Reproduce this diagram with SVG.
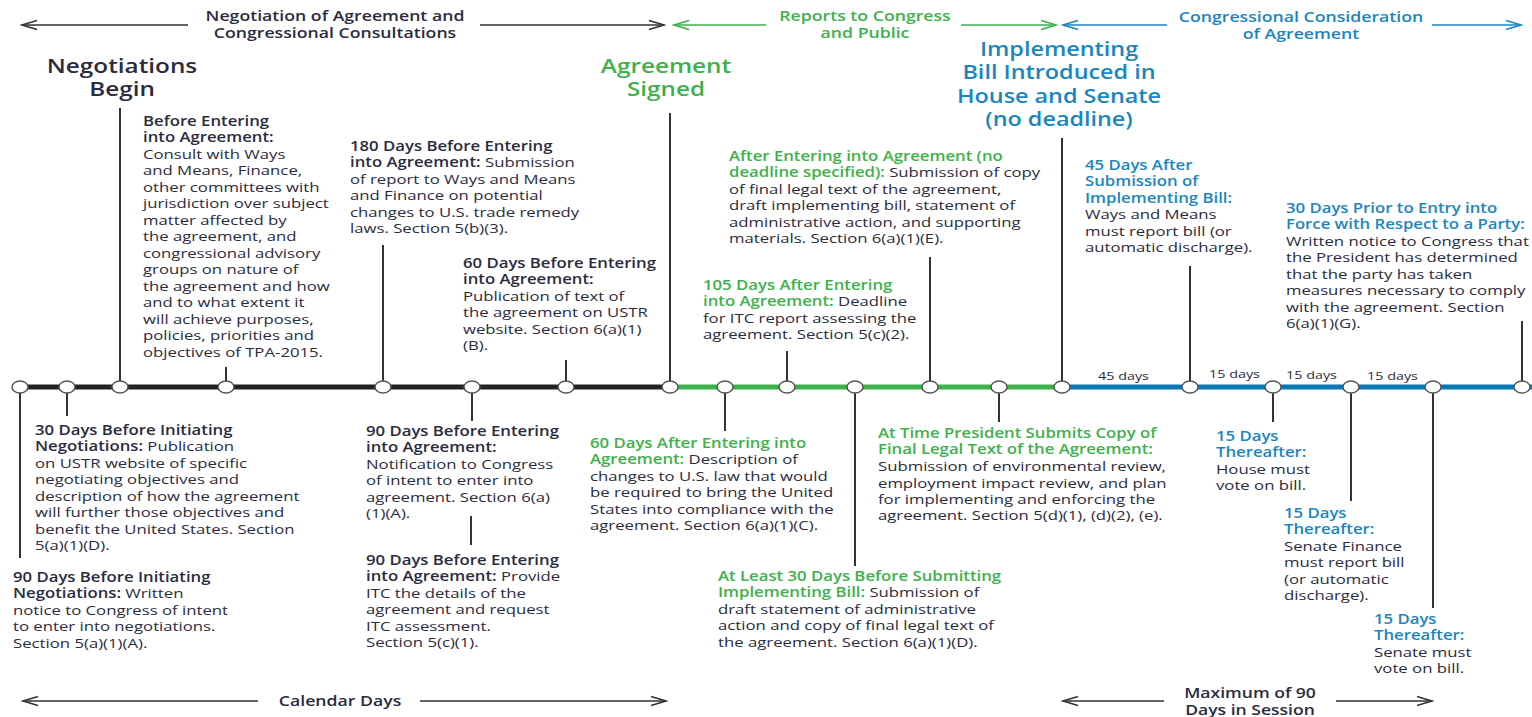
<svg xmlns="http://www.w3.org/2000/svg" width="1532" height="717" viewBox="0 0 1532 717">
<style>
text{font-family:"Open Sans","Noto Sans","Liberation Sans",sans-serif;}
.b{font-size:13.5px;fill:#2b2b40;}
.h{font-weight:600;}
.g{fill:#3db14a;}
.bl{fill:#1a86c0;}
.dk{fill:#2b2b40;}
.big{font-size:19.5px;font-weight:600;text-anchor:middle;}
.big2{font-size:19px;font-weight:600;text-anchor:middle;}
.top{font-size:14.5px;font-weight:600;text-anchor:middle;}
.top2{font-size:13.5px;font-weight:600;text-anchor:middle;}
.sm{font-size:11.5px;fill:#2b2b40;}
.tick{stroke:#333;stroke-width:2;}
.dot{fill:#fff;stroke:#555;stroke-width:1.5;}
.ak{fill:none;stroke:#333;stroke-width:1.4;}
.ag{fill:none;stroke:#3db14a;stroke-width:1.4;}
.ab{fill:none;stroke:#1a86c0;stroke-width:1.4;}
</style>
<defs>
<marker id="mk" markerUnits="userSpaceOnUse" markerWidth="18" markerHeight="12" refX="16" refY="6" orient="auto"><path d="M1,1.5 L16,6 L1,10.5" fill="none" stroke="#333" stroke-width="1.4"/></marker>
<marker id="mg" markerUnits="userSpaceOnUse" markerWidth="18" markerHeight="12" refX="16" refY="6" orient="auto"><path d="M1,1.5 L16,6 L1,10.5" fill="none" stroke="#3db14a" stroke-width="1.4"/></marker>
<marker id="mb" markerUnits="userSpaceOnUse" markerWidth="18" markerHeight="12" refX="16" refY="6" orient="auto"><path d="M1,1.5 L16,6 L1,10.5" fill="none" stroke="#1a86c0" stroke-width="1.4"/></marker>
</defs>
<rect width="1532" height="717" fill="#fff"/>

<g id="connectors">
  <line x1="188" y1="25" x2="22" y2="25" class="ak" marker-end="url(#mk)"/>
  <line x1="480" y1="25" x2="664" y2="25" class="ak" marker-end="url(#mk)"/>
  <line x1="766" y1="25" x2="674" y2="25" class="ag" marker-end="url(#mg)"/>
  <line x1="961" y1="25" x2="1056" y2="25" class="ag" marker-end="url(#mg)"/>
  <line x1="1167" y1="25" x2="1063" y2="25" class="ab" marker-end="url(#mb)"/>
  <line x1="1432" y1="25" x2="1521" y2="25" class="ab" marker-end="url(#mb)"/>
  <line x1="258" y1="701" x2="23" y2="701" class="ak" marker-end="url(#mk)"/>
  <line x1="420" y1="701" x2="666" y2="701" class="ak" marker-end="url(#mk)"/>
  <line x1="1164" y1="701" x2="1063" y2="701" class="ak" marker-end="url(#mk)"/>
  <line x1="1336" y1="701" x2="1432" y2="701" class="ak" marker-end="url(#mk)"/>
  <line x1="20" y1="387" x2="670" y2="387" stroke="#222" stroke-width="5"/>
  <line x1="670" y1="387" x2="1062" y2="387" stroke="#3db14a" stroke-width="5"/>
  <line x1="1062" y1="387" x2="1532" y2="387" stroke="#0b77b4" stroke-width="5"/>
</g>

<g id="phase-labels">
  <text class="top dk" transform="translate(335,0) scale(1.22,1)" x="0" y="21">Negotiation of Agreement and<tspan x="0" dy="17.5">Congressional Consultations</tspan></text>
  <text class="top g" transform="translate(865,0) scale(1.22,1)" x="0" y="21">Reports to Congress<tspan x="0" dy="17.5">and Public</tspan></text>
  <text class="top bl" transform="translate(1301,0) scale(1.22,1)" x="0" y="22">Congressional Consideration<tspan x="0" dy="17.5">of Agreement</tspan></text>
  <text class="big2 dk" transform="translate(122,0) scale(1.28,1)" x="0" y="73">Negotiations<tspan x="0" dy="23">Begin</tspan></text>
  <text class="big2 g" transform="translate(666,0) scale(1.28,1)" x="0" y="73">Agreement<tspan x="0" dy="23">Signed</tspan></text>
  <text class="big bl" transform="translate(1059,0) scale(1.2,1)" x="0" y="56">Implementing<tspan x="0" dy="23.5">Bill Introduced in</tspan><tspan x="0" dy="23.5">House and Senate</tspan><tspan x="0" dy="23.5">(no deadline)</tspan></text>
  <text class="top dk" transform="translate(340,0) scale(1.22,1)" x="0" y="706">Calendar Days</text>
  <text class="top2 dk" transform="translate(1250,0) scale(1.3,1)" x="0" y="698.5">Maximum of 90<tspan x="0" dy="16.5">Days in Session</tspan></text>
  <text class="sm" transform="translate(1098,0) scale(1.25,1)" x="0" y="380">45 days</text>
  <text class="sm" transform="translate(1209,0) scale(1.25,1)" x="0" y="378">15 days</text>
  <text class="sm" transform="translate(1286,0) scale(1.25,1)" x="0" y="379">15 days</text>
  <text class="sm" transform="translate(1367,0) scale(1.25,1)" x="0" y="380">15 days</text>
</g>

<g id="e90-before-initiating">
  <line class="tick" x1="20" y1="387" x2="20" y2="558"/>
  <ellipse class="dot" cx="20" cy="387" rx="8" ry="6"/>
  <text class="b" transform="translate(13,0) scale(1.24,1)" x="0" y="582"><tspan class="h">90 Days Before Initiating</tspan><tspan x="0" dy="16.5" class="h">Negotiations:</tspan> Written<tspan x="0" dy="16.5">notice to Congress of intent</tspan><tspan x="0" dy="16.5">to enter into negotiations.</tspan><tspan x="0" dy="16.5">Section 5(a)(1)(A).</tspan></text>
</g>

<g id="e30-before-initiating">
  <line class="tick" x1="67" y1="387" x2="67" y2="416"/>
  <ellipse class="dot" cx="67" cy="387" rx="8" ry="6"/>
  <text class="b" transform="translate(35,0) scale(1.24,1)" x="0" y="435"><tspan class="h">30 Days Before Initiating</tspan><tspan x="0" dy="16.5" class="h">Negotiations:</tspan> Publication<tspan x="0" dy="16.5">on USTR website of specific</tspan><tspan x="0" dy="16.5">negotiating objectives and</tspan><tspan x="0" dy="16.5">description of how the agreement</tspan><tspan x="0" dy="16.5">will further those objectives and</tspan><tspan x="0" dy="16.5">benefit the United States. Section</tspan><tspan x="0" dy="16.5">5(a)(1)(D).</tspan></text>
</g>

<g id="e-negotiations-begin">
  <line class="tick" x1="120" y1="387" x2="120" y2="108"/>
  <ellipse class="dot" cx="120" cy="387" rx="8" ry="6"/>
</g>

<g id="e-before-entering">
  <line class="tick" x1="226" y1="387" x2="226" y2="367"/>
  <ellipse class="dot" cx="226" cy="387" rx="8" ry="6"/>
  <text class="b" transform="translate(143,0) scale(1.24,1)" x="0" y="126"><tspan class="h">Before Entering</tspan><tspan x="0" dy="16.5" class="h">into Agreement:</tspan><tspan x="0" dy="16.5">Consult with Ways</tspan><tspan x="0" dy="16.5">and Means, Finance,</tspan><tspan x="0" dy="16.5">other committees with</tspan><tspan x="0" dy="16.5">jurisdiction over subject</tspan><tspan x="0" dy="16.5">matter affected by</tspan><tspan x="0" dy="16.5">the agreement, and</tspan><tspan x="0" dy="16.5">congressional advisory</tspan><tspan x="0" dy="16.5">groups on nature of</tspan><tspan x="0" dy="16.5">the agreement and how</tspan><tspan x="0" dy="16.5">and to what extent it</tspan><tspan x="0" dy="16.5">will achieve purposes,</tspan><tspan x="0" dy="16.5">policies, priorities and</tspan><tspan x="0" dy="16.5">objectives of TPA-2015.</tspan></text>
</g>

<g id="e180-before-entering">
  <line class="tick" x1="383" y1="387" x2="383" y2="245"/>
  <ellipse class="dot" cx="383" cy="387" rx="8" ry="6"/>
  <text class="b" transform="translate(350,0) scale(1.24,1)" x="0" y="151"><tspan class="h">180 Days Before Entering</tspan><tspan x="0" dy="16.5" class="h">into Agreement:</tspan> Submission<tspan x="0" dy="16.5">of report to Ways and Means</tspan><tspan x="0" dy="16.5">and Finance on potential</tspan><tspan x="0" dy="16.5">changes to U.S. trade remedy</tspan><tspan x="0" dy="16.5">laws. Section 5(b)(3).</tspan></text>
</g>

<g id="e90-before-entering">
  <line class="tick" x1="472" y1="387" x2="472" y2="421"/>
  <ellipse class="dot" cx="472" cy="387" rx="8" ry="6"/>
  <text class="b" transform="translate(366,0) scale(1.24,1)" x="0" y="436"><tspan class="h">90 Days Before Entering</tspan><tspan x="0" dy="16.5" class="h">into Agreement:</tspan><tspan x="0" dy="16.5">Notification to Congress</tspan><tspan x="0" dy="16.5">of intent to enter into</tspan><tspan x="0" dy="16.5">agreement. Section 6(a)</tspan><tspan x="0" dy="16.5">(1)(A).</tspan></text>
  <line class="tick" x1="471" y1="516" x2="471" y2="545"/>
  <text class="b" transform="translate(366,0) scale(1.24,1)" x="0" y="565"><tspan class="h">90 Days Before Entering</tspan><tspan x="0" dy="16.5" class="h">into Agreement:</tspan> Provide<tspan x="0" dy="16.5">ITC the details of the</tspan><tspan x="0" dy="16.5">agreement and request</tspan><tspan x="0" dy="16.5">ITC assessment.</tspan><tspan x="0" dy="16.5">Section 5(c)(1).</tspan></text>
</g>

<g id="e60-before-entering">
  <line class="tick" x1="566" y1="387" x2="566" y2="360"/>
  <ellipse class="dot" cx="566" cy="387" rx="8" ry="6"/>
  <text class="b" transform="translate(463,0) scale(1.24,1)" x="0" y="268"><tspan class="h">60 Days Before Entering</tspan><tspan x="0" dy="16.5" class="h">into Agreement:</tspan><tspan x="0" dy="16.5">Publication of text of</tspan><tspan x="0" dy="16.5">the agreement on USTR</tspan><tspan x="0" dy="16.5">website. Section 6(a)(1)</tspan><tspan x="0" dy="16.5">(B).</tspan></text>
</g>

<g id="e-agreement-signed">
  <line class="tick" x1="670" y1="387" x2="670" y2="113"/>
  <ellipse class="dot" cx="670" cy="387" rx="8" ry="6"/>
</g>

<g id="e60-after-entering">
  <line class="tick" x1="725" y1="387" x2="725" y2="431"/>
  <ellipse class="dot" cx="725" cy="387" rx="8" ry="6"/>
  <text class="b" transform="translate(590,0) scale(1.24,1)" x="0" y="448"><tspan class="h g">60 Days After Entering into</tspan><tspan x="0" dy="16.5" class="h g">Agreement:</tspan> Description of<tspan x="0" dy="16.5">changes to U.S. law that would</tspan><tspan x="0" dy="16.5">be required to bring the United</tspan><tspan x="0" dy="16.5">States into compliance with the</tspan><tspan x="0" dy="16.5">agreement. Section 6(a)(1)(C).</tspan></text>
</g>

<g id="e105-after-entering">
  <line class="tick" x1="787" y1="387" x2="787" y2="351"/>
  <ellipse class="dot" cx="787" cy="387" rx="8" ry="6"/>
  <text class="b" transform="translate(703,0) scale(1.24,1)" x="0" y="290"><tspan class="h g">105 Days After Entering</tspan><tspan x="0" dy="16.5" class="h g">into Agreement:</tspan> Deadline<tspan x="0" dy="16.5">for ITC report assessing the</tspan><tspan x="0" dy="16.5">agreement. Section 5(c)(2).</tspan></text>
</g>

<g id="e30-before-submitting">
  <line class="tick" x1="855" y1="387" x2="855" y2="566"/>
  <ellipse class="dot" cx="855" cy="387" rx="8" ry="6"/>
  <text class="b" transform="translate(718,0) scale(1.24,1)" x="0" y="581"><tspan class="h g">At Least 30 Days Before Submitting</tspan><tspan x="0" dy="16.5" class="h g">Implementing Bill:</tspan> Submission of<tspan x="0" dy="16.5">draft statement of administrative</tspan><tspan x="0" dy="16.5">action and copy of final legal text of</tspan><tspan x="0" dy="16.5">the agreement. Section 6(a)(1)(D).</tspan></text>
</g>

<g id="e-after-entering">
  <line class="tick" x1="930" y1="387" x2="930" y2="257"/>
  <ellipse class="dot" cx="930" cy="387" rx="8" ry="6"/>
  <text class="b" transform="translate(729,0) scale(1.24,1)" x="0" y="161"><tspan class="h g">After Entering into Agreement (no</tspan><tspan x="0" dy="16.5" class="h g">deadline specified):</tspan> Submission of copy<tspan x="0" dy="16.5">of final legal text of the agreement,</tspan><tspan x="0" dy="16.5">draft implementing bill, statement of</tspan><tspan x="0" dy="16.5">administrative action, and supporting</tspan><tspan x="0" dy="16.5">materials. Section 6(a)(1)(E).</tspan></text>
</g>

<g id="e-president-submits">
  <line class="tick" x1="999" y1="387" x2="999" y2="422"/>
  <ellipse class="dot" cx="999" cy="387" rx="8" ry="6"/>
  <text class="b" transform="translate(878,0) scale(1.24,1)" x="0" y="438"><tspan class="h g">At Time President Submits Copy of</tspan><tspan x="0" dy="16.5" class="h g">Final Legal Text of the Agreement:</tspan><tspan x="0" dy="16.5">Submission of environmental review,</tspan><tspan x="0" dy="16.5">employment impact review, and plan</tspan><tspan x="0" dy="16.5">for implementing and enforcing the</tspan><tspan x="0" dy="16.5">agreement. Section 5(d)(1), (d)(2), (e).</tspan></text>
</g>

<g id="e-bill-introduced">
  <line class="tick" x1="1062" y1="387" x2="1062" y2="138"/>
  <ellipse class="dot" cx="1062" cy="387" rx="8" ry="6"/>
</g>

<g id="e45-after-submission">
  <line class="tick" x1="1190" y1="387" x2="1190" y2="266"/>
  <ellipse class="dot" cx="1190" cy="387" rx="8" ry="6"/>
  <text class="b" transform="translate(1085,0) scale(1.24,1)" x="0" y="170"><tspan class="h bl">45 Days After</tspan><tspan x="0" dy="16.5" class="h bl">Submission of</tspan><tspan x="0" dy="16.5" class="h bl">Implementing Bill:</tspan><tspan x="0" dy="16.5">Ways and Means</tspan><tspan x="0" dy="16.5">must report bill (or</tspan><tspan x="0" dy="16.5">automatic discharge).</tspan></text>
</g>

<g id="e15-house-vote">
  <line class="tick" x1="1273" y1="387" x2="1273" y2="422"/>
  <ellipse class="dot" cx="1273" cy="387" rx="8" ry="6"/>
  <text class="b" transform="translate(1216,0) scale(1.24,1)" x="0" y="441"><tspan class="h bl">15 Days</tspan><tspan x="0" dy="16.5" class="h bl">Thereafter:</tspan><tspan x="0" dy="16.5">House must</tspan><tspan x="0" dy="16.5">vote on bill.</tspan></text>
</g>

<g id="e15-senate-finance">
  <line class="tick" x1="1351" y1="387" x2="1351" y2="501"/>
  <ellipse class="dot" cx="1351" cy="387" rx="8" ry="6"/>
  <text class="b" transform="translate(1284,0) scale(1.24,1)" x="0" y="518"><tspan class="h bl">15 Days</tspan><tspan x="0" dy="16.5" class="h bl">Thereafter:</tspan><tspan x="0" dy="16.5">Senate Finance</tspan><tspan x="0" dy="16.5">must report bill</tspan><tspan x="0" dy="16.5">(or automatic</tspan><tspan x="0" dy="16.5">discharge).</tspan></text>
</g>

<g id="e15-senate-vote">
  <line class="tick" x1="1433" y1="387" x2="1433" y2="608"/>
  <ellipse class="dot" cx="1433" cy="387" rx="8" ry="6"/>
  <text class="b" transform="translate(1374,0) scale(1.24,1)" x="0" y="624"><tspan class="h bl">15 Days</tspan><tspan x="0" dy="16.5" class="h bl">Thereafter:</tspan><tspan x="0" dy="16.5">Senate must</tspan><tspan x="0" dy="16.5">vote on bill.</tspan></text>
</g>

<g id="e30-prior-entry">
  <line class="tick" x1="1522" y1="387" x2="1522" y2="321"/>
  <ellipse class="dot" cx="1522" cy="387" rx="8" ry="6"/>
  <text class="b" transform="translate(1286,0) scale(1.24,1)" x="0" y="213"><tspan class="h bl">30 Days Prior to Entry into</tspan><tspan x="0" dy="16.5" class="h bl">Force with Respect to a Party:</tspan><tspan x="0" dy="16.5">Written notice to Congress that</tspan><tspan x="0" dy="16.5">the President has determined</tspan><tspan x="0" dy="16.5">that the party has taken</tspan><tspan x="0" dy="16.5">measures necessary to comply</tspan><tspan x="0" dy="16.5">with the agreement. Section</tspan><tspan x="0" dy="16.5">6(a)(1)(G).</tspan></text>
</g>
</svg>
